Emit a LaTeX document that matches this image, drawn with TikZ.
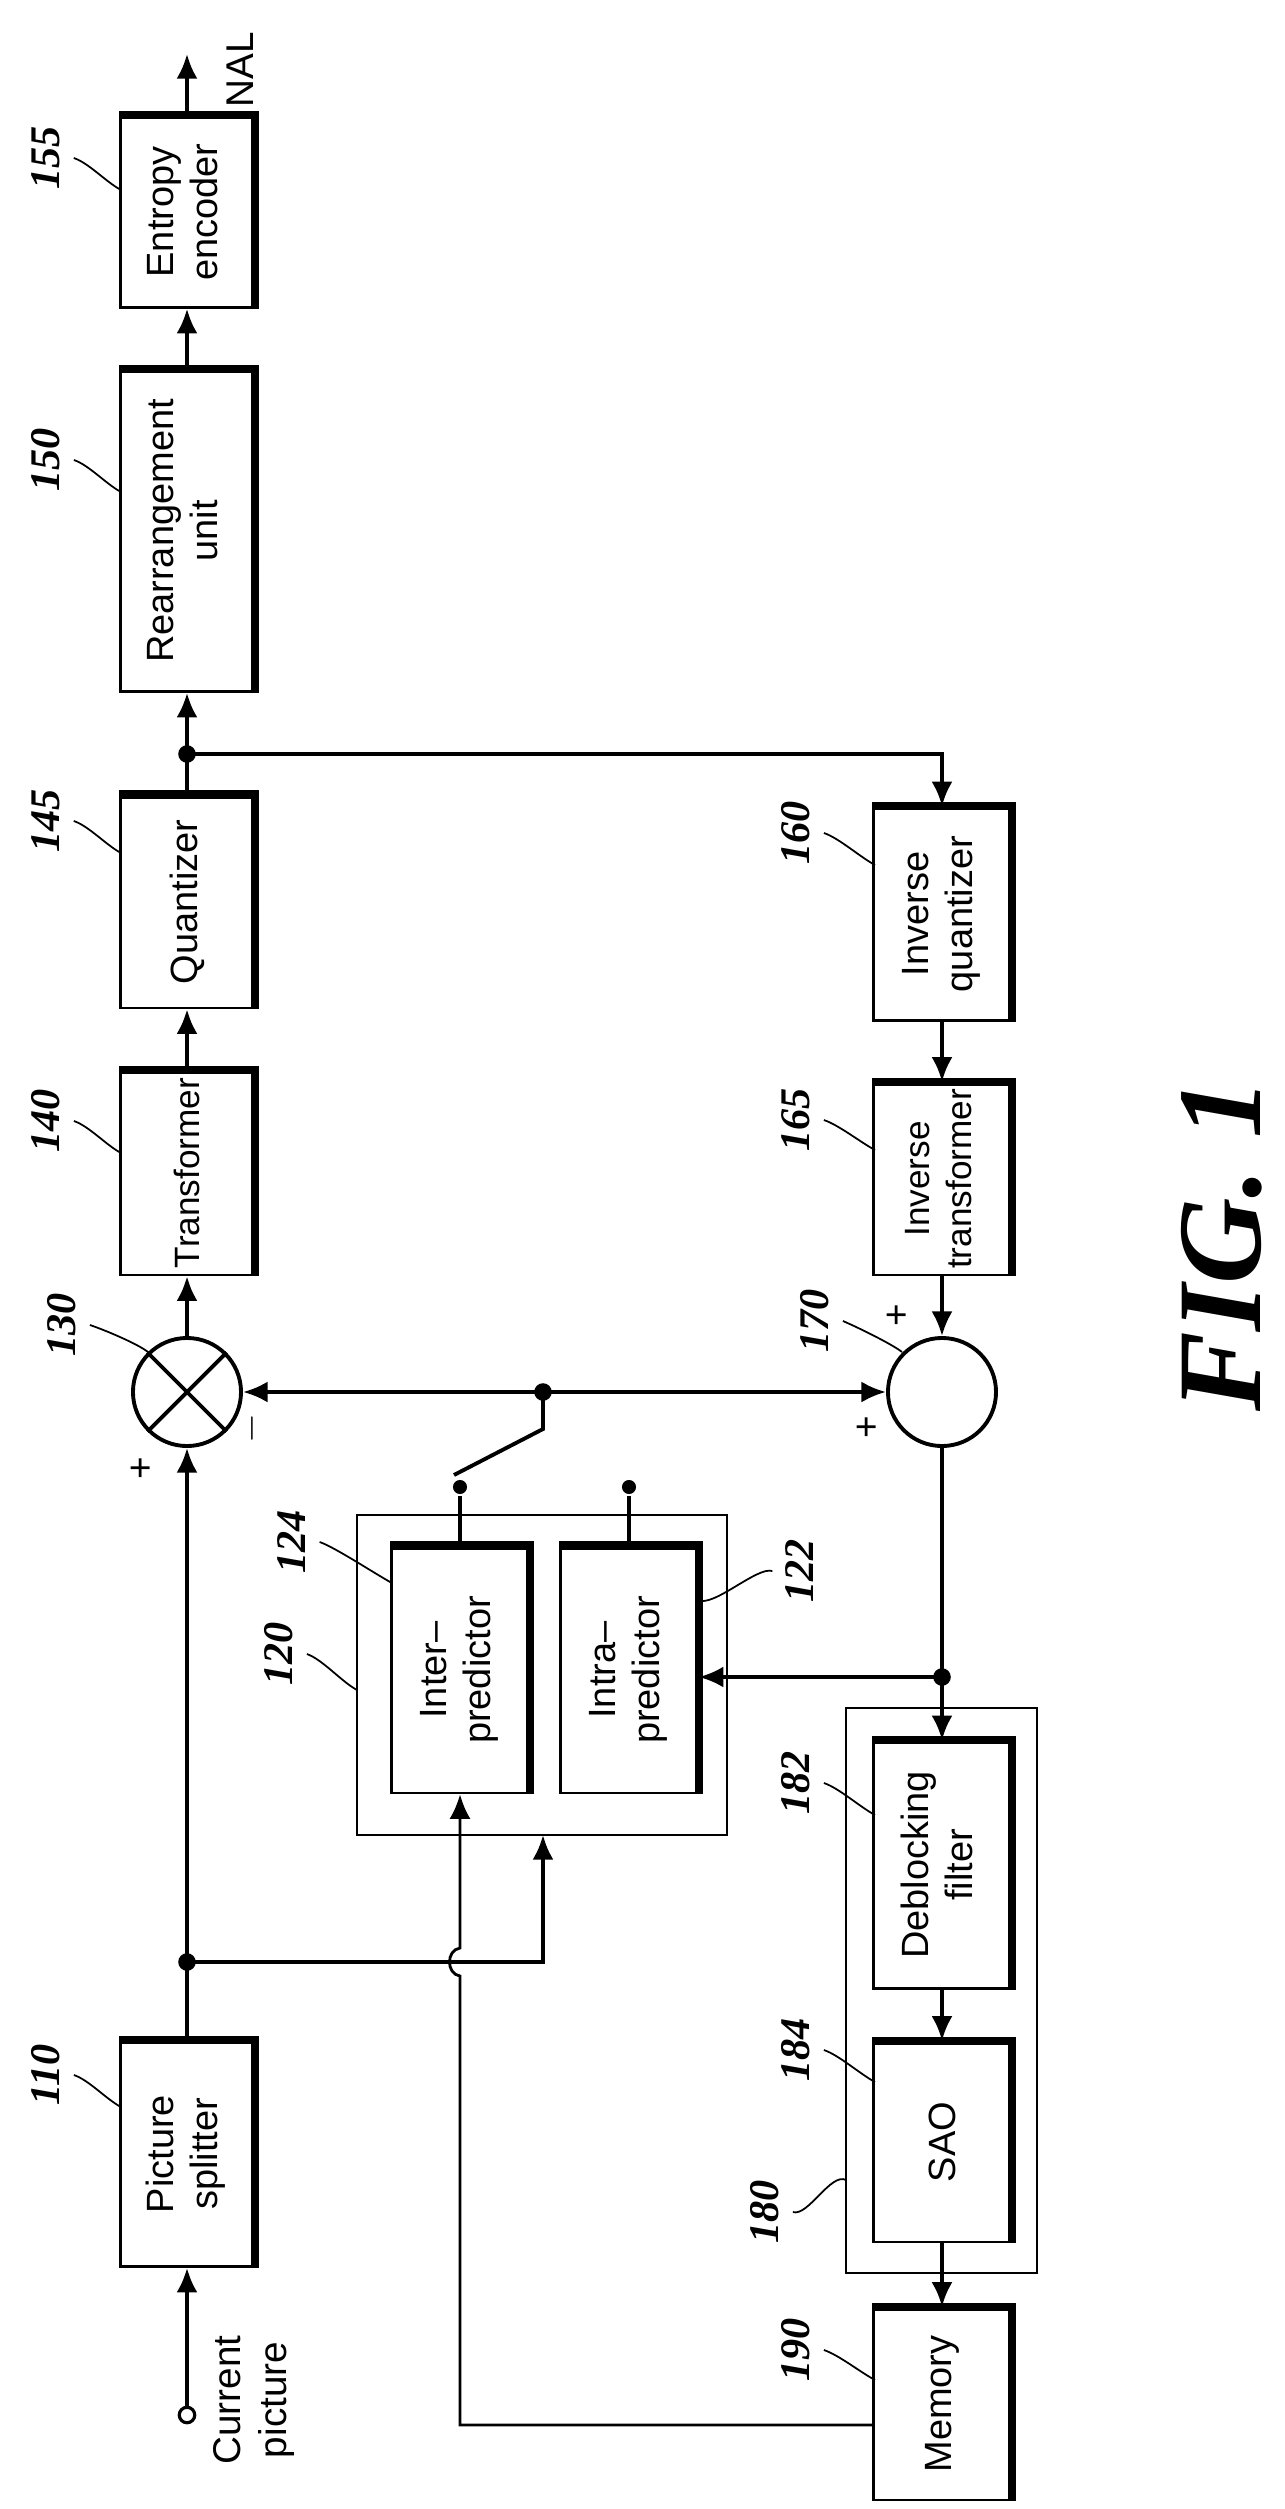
\documentclass[tikz,border=0pt]{standalone}
\usepackage{fontspec}
\setmainfont{Liberation Serif}
\setsansfont{Liberation Sans}
\usetikzlibrary{arrows.meta,positioning}

\begin{document}
\begin{tikzpicture}[x=0.01cm,y=0.01cm,line width=1.1pt]
  \tikzstyle{blk} = [rectangle,draw,line width=0.7pt,inner sep=0pt,font=\sffamily\fontsize{10.8}{12.5}\selectfont]
  \tikzstyle{sum} = [circle,draw,line width=1.1pt,minimum size=1.08cm,inner sep=0pt]
  \tikzstyle{num} = [rotate=90,font=\bfseries\itshape\fontsize{12}{14}\selectfont]
  \tikzstyle{sgn} = [rotate=90,font=\sffamily\fontsize{11}{13}\selectfont]
  \tikzstyle{lead} = [line width=0.5pt]
  \tikzstyle{dot} = [circle,fill,inner sep=0pt,minimum size=5pt]
  \tikzset{>={Latex[length=7pt,width=6pt]}}

  \useasboundingbox (0,0) rectangle (1285,-2509);

  % blocks
  \node [blk, minimum width=1.33cm, minimum height=1.91cm] (ent) at (187,-212) {\rotatebox{90}{\begin{tabular}{@{}c@{}}Entropy\\encoder\end{tabular}}};
  \node [blk, minimum width=1.33cm, minimum height=3.21cm] (rea) at (187,-531) {\rotatebox{90}{\begin{tabular}{@{}c@{}}Rearrangement\\unit\end{tabular}}};
  \node [blk, minimum width=1.33cm, minimum height=2.12cm] (qua) at (187,-902) {\rotatebox{90}{Quantizer}};
  \node [blk, minimum width=1.33cm, minimum height=2.04cm, font=\sffamily\fontsize{10}{12}\selectfont] (tra) at (187,-1173) {\rotatebox{90}{Transformer}};
  \node [blk, minimum width=1.33cm, minimum height=2.25cm] (ps) at (187,-2154) {\rotatebox{90}{\begin{tabular}{@{}c@{}}Picture\\splitter\end{tabular}}};
  \node [blk, minimum width=1.37cm, minimum height=2.13cm] (iq) at (942,-914) {\rotatebox{90}{\begin{tabular}{@{}c@{}}Inverse\\quantizer\end{tabular}}};
  \node [blk, minimum width=1.37cm, minimum height=1.92cm, font=\sffamily\fontsize{10}{12}\selectfont] (it) at (942,-1179) {\rotatebox{90}{\begin{tabular}{@{}c@{}}Inverse\\transformer\end{tabular}}};
  \node [blk, minimum width=1.37cm, minimum height=2.46cm] (inter) at (460,-1670) {\rotatebox{90}{\begin{tabular}{@{}c@{}}Inter--\\predictor\end{tabular}}};
  \node [blk, minimum width=1.37cm, minimum height=2.46cm] (intra) at (629,-1670) {\rotatebox{90}{\begin{tabular}{@{}c@{}}Intra--\\predictor\end{tabular}}};
  \node [blk, minimum width=1.37cm, minimum height=2.47cm] (dbf) at (942,-1865) {\rotatebox{90}{\begin{tabular}{@{}c@{}}Deblocking\\filter\end{tabular}}};
  \node [blk, minimum width=1.37cm, minimum height=2.00cm] (sao) at (942,-2142) {\rotatebox{90}{SAO}};
  \node [blk, minimum width=1.37cm, minimum height=1.92cm] (mem) at (942,-2404) {\rotatebox{90}{Memory}};

  % thick edges on top and right
  \foreach \b in {ent,rea,qua,tra,ps,iq,it,inter,intra,dbf,sao,mem}
    \draw [line width=2.4pt] (\b.north west) -- (\b.north east) -- (\b.south east);

  % predictor and filter groups
  \draw [line width=0.6pt] (357,-1515) rectangle (727,-1835);
  \coordinate (g120) at (543,-1835);
  \draw [line width=0.6pt] (846,-1708) rectangle (1037,-2273);

  % adders
  \node [sum] (s130) at (187,-1392) {};
  \draw (s130.north west) -- (s130.south east) (s130.north east) -- (s130.south west);
  \node [sum] (s170) at (942,-1392) {};

  % junctions
  \coordinate (j1) at (187,-1962);
  \coordinate (j2) at (187,-754);
  \coordinate (j3) at (543,-1392);
  \coordinate (j4) at (942,-1677);
  \coordinate (cur) at (187,-2415);
  \coordinate (nal) at (187,-54);
  \coordinate (sw) at (454,-1475);
  \node [dot] at (j1) {};
  \node [dot] at (j2) {};
  \node [dot] at (j3) {};
  \node [dot] at (j4) {};
  \node [dot, minimum size=4pt] (po) at (460,-1487) {};
  \node [dot, minimum size=4pt] (pa) at (629,-1487) {};
  \draw [line width=0.9pt, fill=white] (cur) circle (2.2pt);

  % main path
  \draw [->] (cur) ++(0,7) -- (ps.south);
  \draw [->] (ps.north) -- (s130.south);
  \draw [->] (j1) -| (g120);
  \draw [->] (s130.north) -- (tra.south);
  \draw [->] (tra.north) -- (qua.south);
  \draw [->] (qua.north) -- (rea.south);
  \draw [->] (rea.north) -- (ent.south);
  \draw [->] (ent.north) -- (nal);
  \draw [->] (j2) -| (iq.north);
  \draw [->] (iq.south) -- (it.north);
  \draw [->] (it.south) -- (s170.north);
  \draw [->] (j3) -- (s130.east);
  \draw [->] (j3) -- (s170.west);
  \draw (j3) -- (543,-1429) -- (sw);
  \draw (inter.north) -- (po);
  \draw (intra.north) -- (pa);
  \draw [->] (s170.south) -- (dbf.north);
  \draw [->] (j4) -- (intra.east |- j4);
  \draw [->] (dbf.south) -- (sao.north);
  \draw [->] (sao.south) -- (mem.north);
  \draw [->, line width=0.8pt] (mem.west |- 0,-2425) -- (460,-2425) -- (460,-1976)
    .. controls (446,-1974) and (446,-1950) .. (460,-1948) -- (inter.south);

  % texts
  \node [sgn] at (240,-70) {NAL};
  \node [sgn, align=center] at (254,-2400) {Current\\picture};
  \node [sgn] at (142,-1468) {+};
  \node [sgn] at (252,-1429) {$-$};
  \node [sgn] at (898,-1315) {+};
  \node [sgn] at (868,-1427) {+};
  \node [rotate=90, font=\bfseries\itshape\fontsize{34}{38}\selectfont] at (1222,-1245) {FIG. 1};

  % reference numbers
  \node [num] (l155) at (46,-158) {155};
  \node [num] (l150) at (46,-460) {150};
  \node [num] (l145) at (46,-821) {145};
  \node [num] (l140) at (46,-1121) {140};
  \node [num] (l110) at (46,-2075) {110};
  \node [num] (l130) at (62,-1325) {130};
  \node [num] (l160) at (796,-833) {160};
  \node [num] (l165) at (796,-1120) {165};
  \node [num] (l170) at (815,-1321) {170};
  \node [num] (l124) at (292,-1542) {124};
  \node [num] (l120) at (279,-1654) {120};
  \node [num] (l122) at (800,-1571) {122};
  \node [num] (l182) at (796,-1783) {182};
  \node [num] (l184) at (796,-2050) {184};
  \node [num] (l180) at (765,-2212) {180};
  \node [num] (l190) at (796,-2350) {190};

  % leaders
  \foreach \l/\x/\y in {l155/121/-190, l150/121/-492, l145/121/-853, l140/121/-1153, l110/121/-2107,
      l160/875/-865, l165/875/-1150, l182/875/-1815, l184/875/-2082, l190/875/-2380,
      l124/392/-1583, l120/357/-1690}
    \draw [lead] (\l.south) .. controls +(15,-5) and +(-15,8) .. (\x,\y);
  \draw [lead] (l130.south) .. controls +(15,-5) and +(-10,8) .. (148,-1352);
  \draw [lead] (l170.south) .. controls +(12,-5) and +(-10,8) .. (902,-1352);
  \draw [lead] (l180.south) .. controls +(15,-5) and +(-15,8) .. (846,-2180);
  \draw [lead] (l122.north) .. controls +(-15,5) and +(15,-8) .. (698,-1600);
\end{tikzpicture}
\end{document}
